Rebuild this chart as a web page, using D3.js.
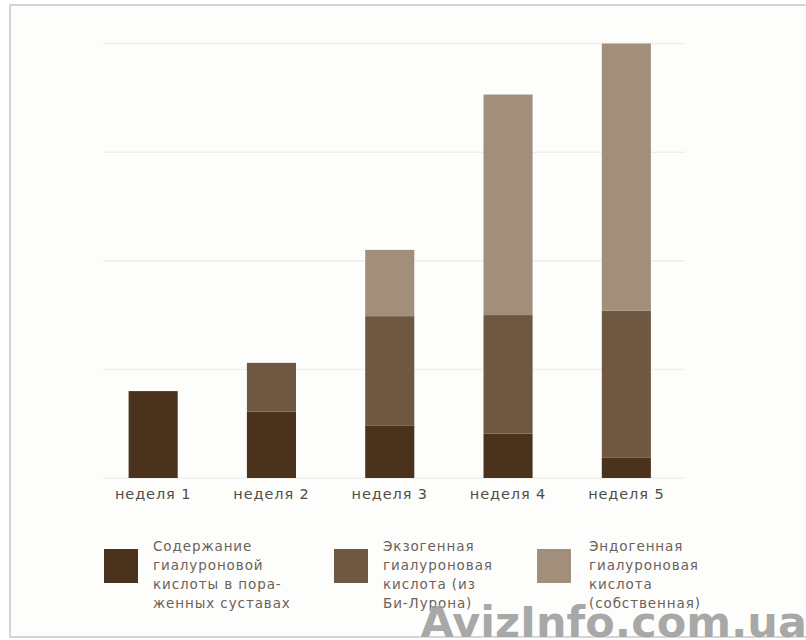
<!DOCTYPE html>
<html><head><meta charset="utf-8">
<script src="https://cdn.jsdelivr.net/npm/d3@7"></script>
<style>
html,body{margin:0;padding:0;background:#fff;}
svg{display:block;}
</style></head>
<body>
<svg id="c" width="806" height="640"></svg>
<script>
const categories = ["неделя 1","неделя 2","неделя 3","неделя 4","неделя 5"];
const seriesNames = [
  ["Содержание","гиалуроновой","кислоты в пора-","женных суставах"],
  ["Экзогенная","гиалуроновая","кислота (из","Би-Лурона)"],
  ["Эндогенная","гиалуроновая","кислота","(собственная)"]
];
const affected = [8.0, 6.1, 4.8, 4.1, 1.9];
const exogenous = [0, 4.5, 10.1, 10.9, 13.5];
const endogenous = [0, 0, 6.1, 20.3, 24.6];
const gridTicks = [0, 10, 20, 30, 40];
const colors = ["#4a321d", "#6f5841", "#a18f7c"];

const svg = d3.select("#c");
svg.append("rect").attr("x",0).attr("y",0).attr("width",806).attr("height",640).attr("fill","#fff");
svg.append("rect").attr("x",10).attr("y",5).attr("width",800).attr("height",632)
  .attr("fill","#fdfdfc").attr("stroke","#d4d4d4").attr("stroke-width",2);

const x = d3.scaleBand().domain(categories).range([94, 685.5]).paddingInner(0.585).paddingOuter(0.2925);
const y = d3.scaleLinear().domain([0, 40]).range([478, 43.5]);

const g = svg.append("g");
g.selectAll("line.grid").data(gridTicks).enter().append("line")
  .attr("x1",103).attr("x2",685).attr("y1",d=>y(d)).attr("y2",d=>y(d))
  .attr("stroke","#f1efeb").attr("stroke-width",1.5);

const table = categories.map((c,i)=>({cat:c, s0:affected[i], s1:exogenous[i], s2:endogenous[i]}));
const stack = d3.stack().keys(["s0","s1","s2"])(table);
stack.forEach((layer,k)=>{
  g.selectAll("rect.l"+k).data(layer.filter(d=>d[1]-d[0]>0)).enter().append("rect")
    .attr("x",d=>x(d.data.cat)).attr("width",x.bandwidth())
    .attr("y",d=>y(d[1])).attr("height",d=>y(d[0])-y(d[1]))
    .attr("fill",colors[k]);
});

const xAxis = d3.axisBottom(x).tickSize(0).tickPadding(9);
const ax = g.append("g").attr("transform","translate(0,478)").call(xAxis);
ax.select(".domain").remove();
ax.selectAll("text").attr("font-family","'DejaVu Sans', sans-serif").attr("font-size",14.5)
  .attr("letter-spacing","0.9px").attr("fill","#4f4c49").attr("dy","0.85em");

// legend
const legX = [104, 334, 537];
const legTextX = [153, 383, 589];
seriesNames.forEach((lines,k)=>{
  const lg = svg.append("g");
  lg.append("rect").attr("x",legX[k]).attr("y",549).attr("width",34).attr("height",34).attr("fill",colors[k]);
  const t = lg.append("text").attr("x",legTextX[k]).attr("y",551)
    .attr("font-family","'DejaVu Sans', sans-serif").attr("font-size",13.5)
    .attr("letter-spacing","0.9px").attr("fill","#6b625a");
  lines.forEach((ln,j)=>{
    t.append("tspan").attr("x",legTextX[k]).attr("y",551+j*19).text(ln);
  });
});

svg.append("text").attr("x",807).attr("y",637).attr("text-anchor","end")
  .attr("font-family","'DejaVu Sans', sans-serif").attr("font-weight","bold")
  .attr("font-size",43).attr("fill","#999999").attr("fill-opacity",0.85)
  .attr("stroke","#ffffff").attr("stroke-opacity",0.5).attr("stroke-width",1).attr("paint-order","stroke")
  .text("AvizInfo.com.ua");
</script>
</body></html>
